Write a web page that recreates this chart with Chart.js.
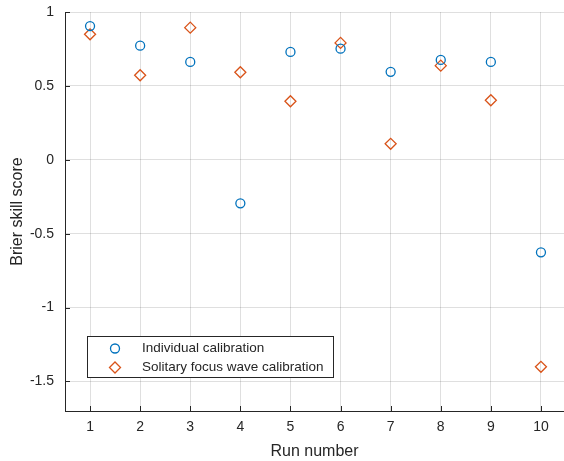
<!DOCTYPE html>
<html>
<head>
<meta charset="utf-8">
<script src="https://cdn.jsdelivr.net/npm/chart.js@4/dist/chart.umd.min.js"></script>
<style>
  html, body { margin: 0; padding: 0; background: #fff; }
  canvas { display: block; }
</style>
</head>
<body>
<canvas id="myChart" width="564" height="461"></canvas>
<script>
'use strict';

// Run numbers on the x axis
let runs = [ 1, 2, 3, 4, 5, 6, 7, 8, 9, 10 ];

// Brier skill score for each run
let individual = [ 0.905, 0.772, 0.662, -0.295, 0.730, 0.752, 0.595, 0.676, 0.662, -0.626 ];
let solitary = [ 0.849, 0.572, 0.894, 0.592, 0.396, 0.791, 0.108, 0.637, 0.403, -1.401 ];

let seriesNames = [ 'Individual calibration', 'Solitary focus wave calibration' ];

let xTicks = [ 1, 2, 3, 4, 5, 6, 7, 8, 9, 10 ];
let yTicks = [ -1.5, -1, -0.5, 0, 0.5, 1 ];

let axisColor = '#262626';
let gridColor = 'rgba(38, 38, 38, 0.15)';
let blue = '#0072BD';
let orange = '#D95319';
let fontFamily = '"Liberation Sans", Arial, Helvetica, sans-serif';

function toPoints( xs, ys ) {
  let pts = [];
  for( let i = 0; i < xs.length; i++ ) {
    pts.push( { x: xs[i], y: ys[i] } );
  }
  return pts;
}

// MATLAB style ticks pointing into the axes
let innerTicks = {
  id: 'innerTicks',
  afterDatasetsDraw( chart ) {
    let ctx = chart.ctx;
    let area = chart.chartArea;
    let xs = chart.scales.x;
    let ys = chart.scales.y;
    ctx.save();
    ctx.strokeStyle = axisColor;
    ctx.lineWidth = 1;
    ctx.beginPath();
    xTicks.forEach( v => {
      let px = Math.round( xs.getPixelForValue( v ) ) + 0.5;
      ctx.moveTo( px, area.bottom );
      ctx.lineTo( px, area.bottom - 5 );
    } );
    yTicks.forEach( v => {
      let py = Math.round( ys.getPixelForValue( v ) ) + 0.5;
      ctx.moveTo( area.left, py );
      ctx.lineTo( area.left + 5, py );
    } );
    ctx.stroke();
    ctx.restore();
  }
};

// legend box inside the plot, lower left
let boxLegend = {
  id: 'boxLegend',
  afterDraw( chart ) {
    let ctx = chart.ctx;
    let area = chart.chartArea;
    let left = area.left + 22.5;
    let top = area.bottom - 74.5;
    let w = 246;
    let h = 41;
    ctx.save();
    ctx.fillStyle = '#fff';
    ctx.fillRect( left, top, w, h );
    ctx.strokeStyle = axisColor;
    ctx.lineWidth = 1;
    ctx.strokeRect( left, top, w, h );

    ctx.font = '13.5px ' + fontFamily;
    ctx.textBaseline = 'middle';
    ctx.textAlign = 'left';
    chart.data.datasets.forEach( ( ds, i ) => {
      let rowY = top + 12 + i * 19;
      ctx.strokeStyle = ds.borderColor;
      ctx.fillStyle = 'rgba(0,0,0,0)';
      ctx.lineWidth = ds.borderWidth;
      Chart.helpers.drawPoint( ctx, {
        pointStyle: ds.pointStyle,
        radius: ds.pointRadius,
        rotation: 0,
        borderWidth: ds.borderWidth
      }, left + 27.5, rowY );
      ctx.fillStyle = axisColor;
      ctx.fillText( ds.label, left + 54.5, rowY );
    } );
    ctx.restore();
  }
};

let ctx = document.getElementById( 'myChart' ).getContext( '2d' );

let myChart = new Chart( ctx, {
  type: 'scatter',
  data: {
    datasets: [
      {
        label: seriesNames[0],
        data: toPoints( runs, individual ),
        pointStyle: 'circle',
        pointRadius: 4.5,
        pointHoverRadius: 4.5,
        borderColor: blue,
        backgroundColor: 'rgba(0,0,0,0)',
        borderWidth: 1.3
      },
      {
        label: seriesNames[1],
        data: toPoints( runs, solitary ),
        pointStyle: 'rectRot',
        pointRadius: 5.5,
        pointHoverRadius: 5.5,
        borderColor: orange,
        backgroundColor: 'rgba(0,0,0,0)',
        borderWidth: 1.3
      }
    ]
  },
  options: {
    responsive: false,
    animation: false,
    devicePixelRatio: 1,
    layout: {
      autoPadding: false,
      padding: { top: 12, right: 0, bottom: 0, left: 0 }
    },
    plugins: {
      legend: { display: false },
      tooltip: { enabled: false }
    },
    scales: {
      x: {
        type: 'linear',
        min: 0.5,
        max: 10.46,
        afterBuildTicks: s => { s.ticks = xTicks.map( v => ( { value: v } ) ); },
        afterFit: s => {
          s.height = 50;
          s.paddingLeft = 0;
          s.paddingRight = 0;
        },
        grid: { color: gridColor, drawTicks: false },
        border: { color: axisColor, width: 1 },
        ticks: {
          padding: 8,
          color: axisColor,
          font: { family: fontFamily, size: 14 },
          maxRotation: 0,
          callback: v => String( v )
        },
        title: {
          display: true,
          text: 'Run number',
          color: axisColor,
          font: { family: fontFamily, size: 16 },
          padding: { top: 0, bottom: 0 }
        }
      },
      y: {
        type: 'linear',
        min: -1.7,
        max: 1,
        afterBuildTicks: s => { s.ticks = yTicks.map( v => ( { value: v } ) ); },
        afterFit: s => {
          s.width = 65;
          s.paddingTop = 0;
          s.paddingBottom = 0;
        },
        grid: { color: gridColor, drawTicks: false },
        border: { color: axisColor, width: 1 },
        ticks: {
          padding: 11,
          color: axisColor,
          font: { family: fontFamily, size: 14 },
          callback: v => String( v )
        },
        title: {
          display: true,
          text: 'Brier skill score',
          color: axisColor,
          font: { family: fontFamily, size: 16 },
          padding: { top: 8, bottom: 0 }
        }
      }
    }
  },
  plugins: [ innerTicks, boxLegend ]
} );
</script>
</body>
</html>
